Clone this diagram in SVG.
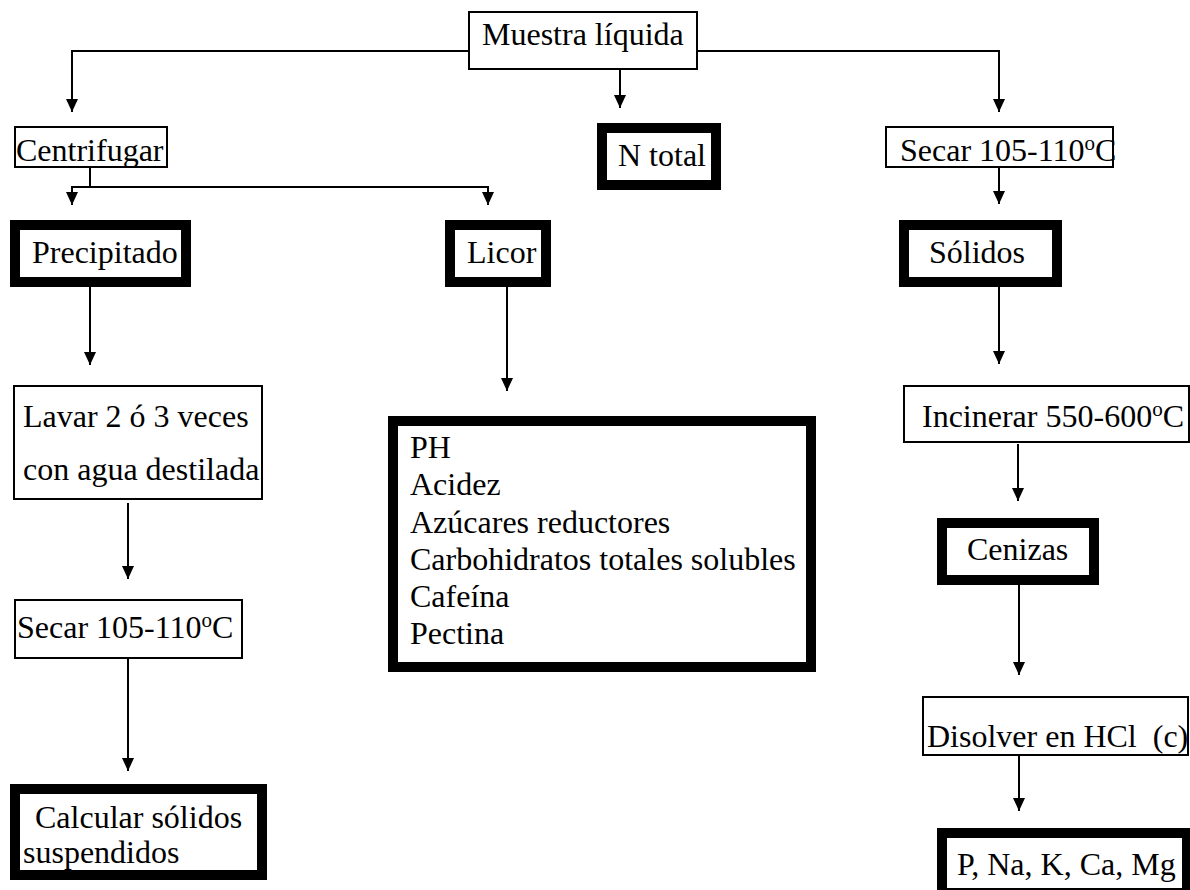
<svg xmlns="http://www.w3.org/2000/svg" width="1190" height="890" viewBox="0 0 1190 890">
  <style>
    text { font-family: "Liberation Serif", "Times New Roman", serif; font-size: 32px; fill: #000; white-space: pre; }
    .thin { fill: #fff; stroke: #000; stroke-width: 2; }
    .thick { fill: #fff; stroke: #000; stroke-width: 10; }
    .sup { font-size: 21px; }
    #connectors path { fill: none; stroke: #000; stroke-width: 2; }
    .arrow { marker-end: url(#head); }
  </style>
  <defs>
    <marker id="head" viewBox="0 0 13 12" refX="13" refY="6" markerWidth="13" markerHeight="12" markerUnits="userSpaceOnUse" orient="auto">
      <path d="M0,0 L13,6 L0,12 z" fill="#000"/>
    </marker>
  </defs>
  <rect width="1190" height="890" fill="#fff"/>

  <!-- connectors -->
  <g id="connectors">
    <path class="arrow" d="M469,51 H72 V112"/>
    <path class="arrow" d="M697,51 H999 V112"/>
    <path class="arrow" d="M620,69 V108"/>
    <path d="M90,167 V187"/>
    <path class="arrow" d="M90,187 H72 V205"/>
    <path class="arrow" d="M90,187 H488 V205"/>
    <path class="arrow" d="M999,167 V204"/>
    <path class="arrow" d="M90,287 V365"/>
    <path class="arrow" d="M128,503 V579"/>
    <path class="arrow" d="M128,658 V771"/>
    <path class="arrow" d="M507,287 V391"/>
    <path class="arrow" d="M999,287 V364"/>
    <path class="arrow" d="M1018,444 V501"/>
    <path class="arrow" d="M1019,585 V675"/>
    <path class="arrow" d="M1019,755 V811"/>
  </g>

  <!-- nodes -->
  <g id="muestra">
    <rect class="thin" x="469" y="12" width="228" height="57"/>
    <text x="482" y="45">Muestra líquida</text>
  </g>
  <g id="centrifugar">
    <rect class="thin" x="15" y="127" width="152" height="40"/>
    <text x="16" y="161">Centrifugar</text>
  </g>
  <g id="ntotal">
    <rect class="thick" x="602" y="128" width="114" height="57"/>
    <text x="618" y="166">N total</text>
  </g>
  <g id="secar-solidos">
    <rect class="thin" x="886" y="127" width="227" height="40"/>
    <text x="900" y="161">Secar 105-110<tspan class="sup" dy="-11">o</tspan><tspan dy="11">C</tspan></text>
  </g>
  <g id="precipitado">
    <rect class="thick" x="15" y="225" width="171" height="57"/>
    <text x="32" y="263">Precipitado</text>
  </g>
  <g id="licor">
    <rect class="thick" x="450" y="225" width="96" height="57"/>
    <text x="467" y="263">Licor</text>
  </g>
  <g id="solidos">
    <rect class="thick" x="904" y="225" width="153" height="57"/>
    <text x="929" y="263">Sólidos</text>
  </g>
  <g id="lavar">
    <rect class="thin" x="14" y="386" width="248" height="113"/>
    <text x="23" y="427">Lavar 2 ó 3 veces</text>
    <text x="23" y="480">con agua destilada</text>
  </g>
  <g id="analisis-licor">
    <rect class="thick" x="393" y="421" width="418" height="246"/>
    <text x="410" y="458">PH</text>
    <text x="410" y="495">Acidez</text>
    <text x="410" y="533">Azúcares reductores</text>
    <text x="410" y="570">Carbohidratos totales solubles</text>
    <text x="410" y="607">Cafeína</text>
    <text x="410" y="644">Pectina</text>
  </g>
  <g id="incinerar">
    <rect class="thin" x="904" y="386" width="285" height="56"/>
    <text x="922" y="427">Incinerar 550-600<tspan class="sup" dy="-11">o</tspan><tspan dy="11">C</tspan></text>
  </g>
  <g id="secar-precipitado">
    <rect class="thin" x="15" y="600" width="227" height="58"/>
    <text x="17" y="638">Secar 105-110<tspan class="sup" dy="-11">o</tspan><tspan dy="11">C</tspan></text>
  </g>
  <g id="cenizas">
    <rect class="thick" x="942" y="523" width="152" height="57"/>
    <text x="967" y="560">Cenizas</text>
  </g>
  <g id="disolver">
    <rect class="thin" x="923" y="697" width="265" height="58"/>
    <text x="927" y="747">Disolver en HCl  (c)</text>
  </g>
  <g id="calcular">
    <rect class="thick" x="15" y="789" width="247" height="86"/>
    <text x="35" y="828">Calcular sólidos</text>
    <text x="23" y="863">suspendidos</text>
  </g>
  <g id="minerales">
    <rect class="thick" x="942" y="833" width="245" height="60"/>
    <text x="957" y="875">P, Na, K, Ca, Mg</text>
  </g>
</svg>
